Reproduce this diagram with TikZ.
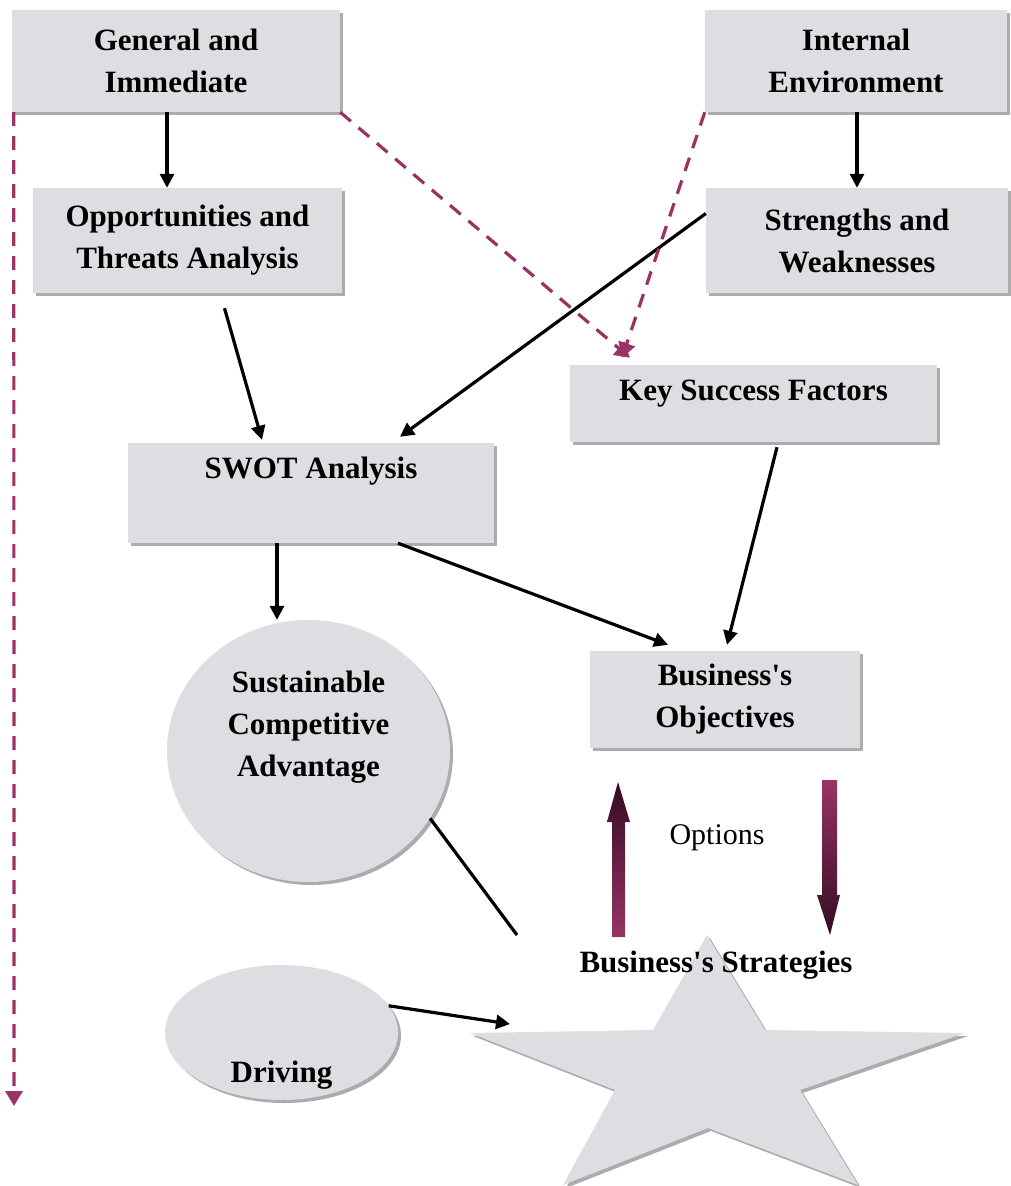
\documentclass[tikz,border=0pt]{standalone}
\usepackage{fontspec}
\setmainfont{Liberation Serif}
\usetikzlibrary{arrows.meta,shadows,shapes.geometric}
\definecolor{marble}{RGB}{222,222,226}
\definecolor{plum}{RGB}{153,51,102}
\definecolor{darkplum}{RGB}{50,12,34}
\newcommand{\apo}{\textquotesingle}
\begin{document}
\begin{tikzpicture}[x=1pt,y=-1pt,
  lbl/.style={font=\bfseries\fontsize{31}{42}\selectfont, align=center, inner sep=0pt},
  box/.style={lbl, rectangle, fill=marble, draw=none,
    drop shadow={shadow xshift=3pt, shadow yshift=-3pt, fill=gray!65, opacity=1}},
  oval/.style={lbl, ellipse, fill=marble, draw=none,
    drop shadow={shadow xshift=3pt, shadow yshift=-3pt, fill=gray!65, opacity=1}},
  arr/.style={line width=3.2pt, -{Triangle[length=14pt,width=14pt]}},
  link/.style={line width=3.2pt},
  dashline/.style={plum, line width=3.2pt, dash pattern=on 14pt off 10pt},
  dasharr/.style={dashline, -{Triangle[length=15pt,width=17pt]}}]
\useasboundingbox (0,0) rectangle (1010,1186);

% boxes
\node[box, minimum width=328pt, minimum height=102pt] (gen) at (176,61) {General and\\Immediate};
\node[box, minimum width=302pt, minimum height=102pt] (int) at (856,61) {Internal\\Environment};
\node[box, minimum width=309pt, minimum height=105pt] (opp) at (187.5,240.5) {Opportunities and\\Threats Analysis};
\node[box, minimum width=302pt, minimum height=105pt] (sw) at (857,240.5) {Strengths and\\Weaknesses};
\node[box, minimum width=367pt, minimum height=77pt] (ksf) at (753.5,403.5) {\raisebox{10pt}[\height][\depth]{Key Success Factors}};
\node[box, minimum width=366pt, minimum height=100pt] (swot) at (311,493) {\raisebox{22pt}[\height][\depth]{SWOT Analysis}};
\node[box, minimum width=270pt, minimum height=97pt] (obj) at (725,699.5) {Business\apo s\\Objectives};
\node[oval, minimum width=283pt, minimum height=262pt] (sca) at (308.5,751) {\raisebox{25pt}[\height][\depth]{\begin{tabular}{@{}c@{}}Sustainable\\Competitive\\Advantage\end{tabular}}};
\node[oval, minimum width=233pt, minimum height=135pt] (drv) at (281.5,1032.5) {\raisebox{-43pt}[\height][\depth]{Driving}};

% star
\fill[gray!65] (710,938) -- (768,1033) -- (968,1036) -- (803,1093) -- (861,1188) -- (711,1131) -- (566,1188) -- (618,1093) -- (473,1036) -- (656,1033) -- cycle;
\fill[marble] (707,935) -- (765,1030) -- (965,1033) -- (800,1090) -- (858,1185) -- (708,1128) -- (563,1185) -- (615,1090) -- (470,1033) -- (653,1030) -- cycle;
\coordinate (starL) at (510,1024);
\coordinate (starT) at (517,935);
\node[lbl] (strat) at (716,965) {Business\apo s Strategies};

% solid connectors
\draw[arr] (gen.south -| 167,0) -- (opp.north -| 167,0);
\draw[arr] (int.south -| 857,0) -- (sw.north -| 857,0);
\draw[arr] ([shift={(37,15)}]opp.south) -- ([shift={(-49,-3)}]swot.north);
\draw[arr] ([shift={(0,-27)}]sw.west) -- ([shift={(89,-6)}]swot.north);
\draw[arr] (swot.south -| 277,0) -- (sca.north -| 277,0);
\draw[arr] ([shift={(87,0)}]swot.south) -- ([shift={(-57,-6)}]obj.north);
\draw[arr] ([shift={(23.5,5)}]ksf.south) -- ([shift={(2,-6)}]obj.north);
\draw[link] (sca.-29) -- (starT);
\draw[arr] (drv.14) -- (starL);

% dashed connectors
\draw[dasharr] (gen.south east) -- ([shift={(-123.5,-7)}]ksf.north);
\draw[dasharr] (int.south west) -- ([shift={(-131.5,-7)}]ksf.north);
\coordinate (leftEnd) at (14,1106);
\draw[dasharr] ([xshift=2pt]gen.south west) -- (leftEnd);

% option arrows
\shade[top color=darkplum, bottom color=plum] (618,782) -- (630,822) -- (625,822) -- (625,937) -- (612,937) -- (612,822) -- (607,822) -- cycle;
\shade[top color=plum, bottom color=darkplum] (822,780) -- (837,780) -- (837,895) -- (840,895) -- (830,935) -- (817,895) -- (822,895) -- cycle;
\node[font=\fontsize{30}{36}\selectfont, inner sep=0pt] (opt) at (717,838) {Options};
\end{tikzpicture}
\end{document}
